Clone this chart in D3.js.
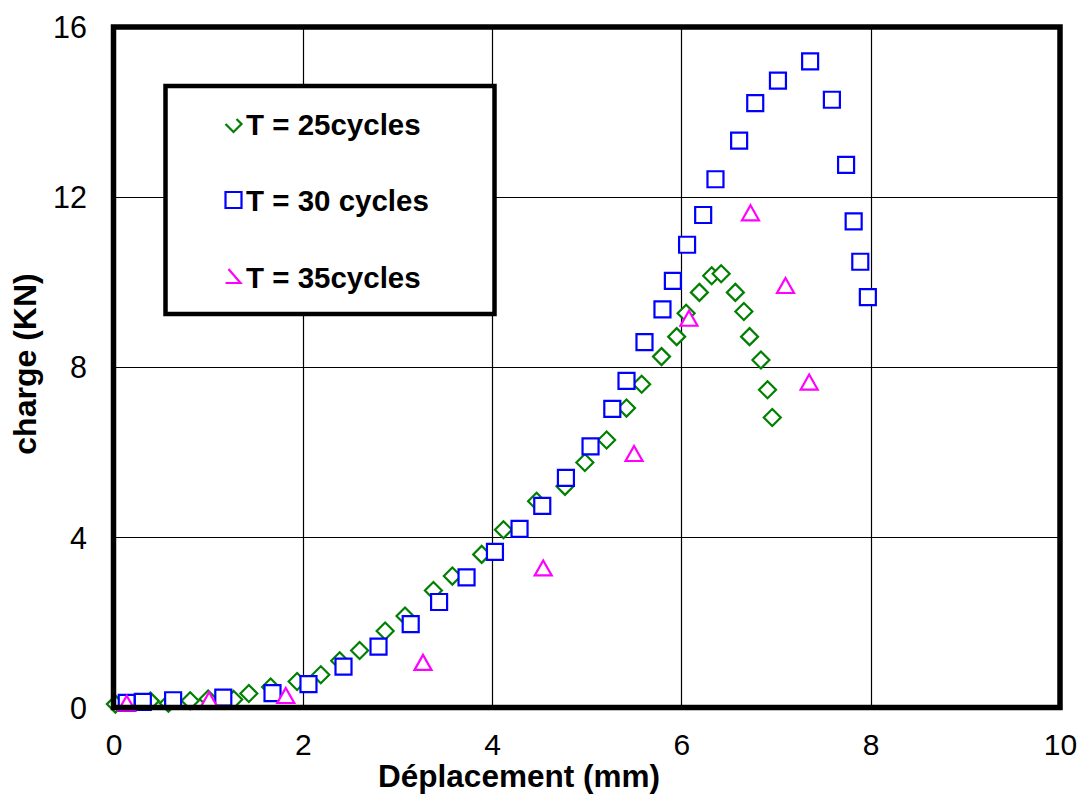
<!DOCTYPE html>
<html>
<head>
<meta charset="utf-8">
<script src="https://cdn.jsdelivr.net/npm/d3@7"></script>
<style>
  html, body { margin: 0; padding: 0; background: #fff; }
  svg { display: block; font-family: "Liberation Sans", Arial, sans-serif; }
</style>
</head>
<body>
<svg id="chart" width="1086" height="794"></svg>
<script>
// ---- Data ----
const xTicks = [0, 2, 4, 6, 8, 10];
const yTicks = [0, 4, 8, 12, 16];

const seriesNames = ["T = 25cycles", "T = 30 cycles", "T = 35cycles"];

const x25 = [0.02, 0.39, 0.58, 0.81, 1.00, 1.27, 1.43, 1.66, 1.94, 2.19, 2.39, 2.60, 2.87, 3.08, 3.38, 3.58, 3.89, 4.12, 4.47, 4.77, 4.98, 5.21, 5.42, 5.58, 5.79, 5.95, 6.05, 6.19, 6.32, 6.42, 6.57, 6.66, 6.72, 6.84, 6.91, 6.96];
const y25 = [0.08, 0.15, 0.10, 0.16, 0.20, 0.19, 0.33, 0.48, 0.61, 0.77, 1.10, 1.34, 1.80, 2.15, 2.75, 3.09, 3.60, 4.18, 4.85, 5.20, 5.76, 6.29, 7.04, 7.60, 8.25, 8.72, 9.27, 9.76, 10.15, 10.20, 9.76, 9.31, 8.72, 8.17, 7.47, 6.82];

const x30 = [0.14, 0.31, 0.63, 1.16, 1.68, 2.06, 2.43, 2.80, 3.14, 3.44, 3.73, 4.03, 4.29, 4.53, 4.78, 5.04, 5.27, 5.42, 5.61, 5.80, 5.91, 6.06, 6.23, 6.36, 6.61, 6.78, 7.02, 7.36, 7.59, 7.74, 7.82, 7.89, 7.97];
const y30 = [0.11, 0.13, 0.17, 0.23, 0.34, 0.55, 0.96, 1.43, 1.96, 2.48, 3.06, 3.66, 4.20, 4.74, 5.40, 6.14, 7.02, 7.68, 8.59, 9.36, 10.03, 10.88, 11.58, 12.42, 13.33, 14.21, 14.74, 15.19, 14.29, 12.76, 11.43, 10.48, 9.65];

const x35 = [0.14, 1.01, 1.82, 3.27, 4.54, 5.50, 6.08, 6.73, 7.10, 7.35];
const y35 = [0.09, 0.17, 0.27, 1.05, 3.27, 5.96, 9.14, 11.62, 9.91, 7.64];

// ---- Chart ----
const svg = d3.select("#chart");
const FONT = '"Liberation Sans", Arial, sans-serif';

const x = d3.scaleLinear().domain([0, 10]).range([113.5, 1060]);
const y = d3.scaleLinear().domain([0, 16]).range([707.5, 27]);

// gridlines
const grid = svg.append("g");
grid.selectAll("line.v").data(xTicks.slice(1, -1)).enter().append("line")
  .attr("x1", d => Math.round(x(d)) + 0.5).attr("x2", d => Math.round(x(d)) + 0.5)
  .attr("y1", y(16)).attr("y2", y(0))
  .attr("stroke", "#000").attr("stroke-width", 1.2);
grid.selectAll("line.h").data(yTicks.slice(1, -1)).enter().append("line")
  .attr("y1", d => Math.round(y(d)) + 0.5).attr("y2", d => Math.round(y(d)) + 0.5)
  .attr("x1", x(0)).attr("x2", x(10))
  .attr("stroke", "#000").attr("stroke-width", 1.2);

// axes (labels only)
const xAxis = d3.axisBottom(x).tickValues(xTicks).tickSize(0).tickPadding(0).tickFormat(d3.format("d"));
const gx = svg.append("g").attr("transform", `translate(0,${y(0)})`).call(xAxis);
gx.select(".domain").remove();
gx.selectAll("text").attr("font-family", FONT).attr("font-size", 30).attr("fill", "#000")
  .attr("dy", null).attr("y", 47);

const yAxis = d3.axisLeft(y).tickValues(yTicks).tickSize(0).tickPadding(0).tickFormat(d3.format("d"));
const gy = svg.append("g").attr("transform", `translate(87,0)`).call(yAxis);
gy.select(".domain").remove();
gy.selectAll("text").attr("font-family", FONT).attr("font-size", 30.5).attr("fill", "#000")
  .attr("dy", "0.35em");

// axis titles
svg.append("text").attr("x", (376 + 662) / 2).attr("y", 787)
  .attr("text-anchor", "middle").attr("font-family", FONT).attr("font-weight", "bold")
  .attr("font-size", 31.5).text("Déplacement (mm)");
svg.append("text").attr("transform", "translate(36,364) rotate(-90)")
  .attr("text-anchor", "middle").attr("font-family", FONT).attr("font-weight", "bold")
  .attr("font-size", 32).text("charge (KN)");

// markers
const symDiamond = "M0,-8.5L8.5,0L0,8.5L-8.5,0Z";
const symSquare = "M-8,-8H8V8H-8Z";
const symTriangle = "M0,-8L8.5,7L-8.5,7Z";

function drawSeries(xs, ys, pathD, color) {
  const data = xs.map((v, i) => [v, ys[i]]);
  svg.append("g").selectAll("path").data(data).enter().append("path")
    .attr("transform", d => `translate(${x(d[0])},${y(d[1])})`)
    .attr("d", pathD)
    .attr("fill", "#fff").attr("stroke", color).attr("stroke-width", 2.2);
}
drawSeries(x25, y25, symDiamond, "#008000");
drawSeries(x30, y30, symSquare, "#0000FF");
drawSeries(x35, y35, symTriangle, "#FF00FF");

// frame
svg.append("rect").attr("x", x(0)).attr("y", y(16))
  .attr("width", x(10) - x(0)).attr("height", y(0) - y(16))
  .attr("fill", "none").attr("stroke", "#000").attr("stroke-width", 5.5);

// legend
const lg = svg.append("g");
lg.append("rect").attr("x", 165.5).attr("y", 86).attr("width", 329).attr("height", 228)
  .attr("fill", "#fff").attr("stroke", "#000").attr("stroke-width", 4.5);
const legendMarks = [
  { path: "M-8,0L0,8L8,0L3,-5", color: "#008000", cy: 124 },
  { path: "M-8,-8H8V8H-8Z", color: "#0000FF", cy: 200 },
  { path: "M-5,-8L7,6L-8,6", color: "#FF00FF", cy: 277 }
];
seriesNames.forEach((name, i) => {
  const m = legendMarks[i];
  lg.append("path").attr("transform", `translate(233.5,${m.cy})`).attr("d", m.path)
    .attr("fill", "none").attr("stroke", m.color).attr("stroke-width", 2.2);
  lg.append("text").attr("x", 246).attr("y", m.cy).attr("dy", "0.36em")
    .attr("font-family", FONT).attr("font-weight", "bold").attr("font-size", 29.5)
    .text(name);
});
</script>
</body>
</html>
